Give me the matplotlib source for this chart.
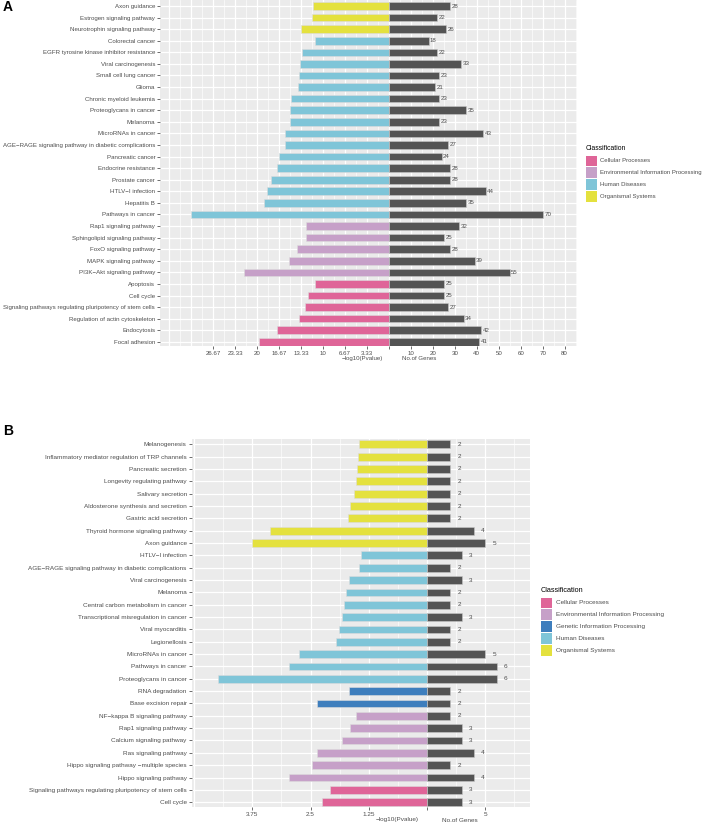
import matplotlib
matplotlib.use("Agg")
import matplotlib.pyplot as plt
from matplotlib.patches import Rectangle
import numpy as np

plt.rcParams['font.family'] = ['Liberation Sans', 'DejaVu Sans']

# ---------------- Data: panel A (top to bottom) ----------------
A_terms = ["Axon guidance", "Estrogen signaling pathway", "Neurotrophin signaling pathway",
           "Colorectal cancer", "EGFR tyrosine kinase inhibitor resistance", "Viral carcinogenesis",
           "Small cell lung cancer", "Glioma", "Chronic myeloid leukemia", "Proteoglycans in cancer",
           "Melanoma", "MicroRNAs in cancer", "AGE\u2212RAGE signaling pathway in diabetic complications",
           "Pancreatic cancer", "Endocrine resistance", "Prostate cancer", "HTLV\u2212I infection",
           "Hepatitis B", "Pathways in cancer", "Rap1 signaling pathway", "Sphingolipid signaling pathway",
           "FoxO signaling pathway", "MAPK signaling pathway", "PI3K\u2212Akt signaling pathway",
           "Apoptosis", "Cell cycle", "Signaling pathways regulating pluripotency of stem cells",
           "Regulation of actin cytoskeleton", "Endocytosis", "Focal adhesion"]
A_class = ["Organismal Systems"] * 3 + ["Human Diseases"] * 16 + \
          ["Environmental Information Processing"] * 5 + ["Cellular Processes"] * 6
A_logp = [11.5, 11.7, 13.35, 11.2, 13.2, 13.5, 13.6, 13.85, 14.85, 15.0, 15.05, 15.8, 15.8,
          16.7, 17.05, 17.9, 18.5, 18.95, 30.0, 12.55, 12.55, 14.0, 15.15, 22.0,
          11.3, 12.35, 12.75, 13.7, 17.05, 19.7]
A_genes = [28, 22, 26, 18, 22, 33, 23, 21, 23, 35, 23, 43, 27, 24, 28, 28, 44, 35, 70,
           32, 25, 28, 39, 55, 25, 25, 27, 34, 42, 41]

# ---------------- Data: panel B (top to bottom) ----------------
B_terms = ["Melanogenesis", "Inflammatory mediator regulation of TRP channels", "Pancreatic secretion",
           "Longevity regulating pathway", "Salivary secretion", "Aldosterone synthesis and secretion",
           "Gastric acid secretion", "Thyroid hormone signaling pathway", "Axon guidance",
           "HTLV\u2212I infection", "AGE\u2212RAGE signaling pathway in diabetic complications",
           "Viral carcinogenesis", "Melanoma", "Central carbon metabolism in cancer",
           "Transcriptional misregulation in cancer", "Viral myocarditis", "Legionellosis",
           "MicroRNAs in cancer", "Pathways in cancer", "Proteoglycans in cancer",
           "RNA degradation", "Base excision repair", "NF\u2212kappa B signaling pathway",
           "Rap1 signaling pathway", "Calcium signaling pathway", "Ras signaling pathway",
           "Hippo signaling pathway \u2212multiple species", "Hippo signaling pathway",
           "Signaling pathways regulating pluripotency of stem cells", "Cell cycle"]
B_class = ["Organismal Systems"] * 9 + ["Human Diseases"] * 11 + \
          ["Genetic Information Processing"] * 2 + ["Environmental Information Processing"] * 6 + \
          ["Cellular Processes"] * 2
B_logp = [1.47, 1.49, 1.50, 1.53, 1.57, 1.65, 1.70, 3.38, 3.76,
          1.42, 1.47, 1.67, 1.74, 1.79, 1.82, 1.89, 1.95, 2.74, 2.96, 4.49,
          1.68, 2.36, 1.53, 1.65, 1.82, 2.36, 2.47, 2.96, 2.09, 2.25]
B_genes = [2, 2, 2, 2, 2, 2, 2, 4, 5, 3, 2, 3, 2, 2, 3, 2, 2, 5, 6, 6,
           2, 2, 2, 3, 3, 4, 2, 4, 3, 3]

CLASS_COLORS = {
    "Cellular Processes": "#DF6598",
    "Environmental Information Processing": "#C6A0C8",
    "Genetic Information Processing": "#3E7EBD",
    "Human Diseases": "#7FC5D8",
    "Organismal Systems": "#E4E13E",
}
GENE_COLOR = "#545454"
PANEL_BG = "#EBEBEB"
TXT = "#4D4D4D"

W, H = 708, 825
fig = plt.figure(figsize=(W / 100, H / 100), dpi=100)


def px_axes(left, top, right, bottom):
    return fig.add_axes([left / W, 1 - bottom / H, (right - left) / W, (bottom - top) / H])


def fmt(v):
    return f"{v:.2f}".rstrip("0").rstrip(".")


def draw_panel(ax, terms, classes, logp, genes, scale, xlim, ylim, major, minor,
               bar_h, fs, lbl_off):
    n = len(terms)
    y = np.arange(n)
    ax.set_facecolor(PANEL_BG)
    for s in ax.spines.values():
        s.set_visible(False)
    for xv in minor:
        ax.axvline(xv, color="white", lw=0.45, zorder=0)
    for xv in major:
        ax.axvline(xv, color="white", lw=0.9, zorder=0)
    for yv in y:
        ax.axhline(yv, color="white", lw=0.9, zorder=0)
    cols = [CLASS_COLORS[c] for c in classes]
    ax.barh(y, -np.array(logp) * scale, height=bar_h, color=cols,
            edgecolor="#dcdcdc", linewidth=0.4, zorder=2)
    ax.barh(y, genes, height=bar_h, color=GENE_COLOR,
            edgecolor="#c8c8c8", linewidth=0.4, zorder=2)
    for yi, g in zip(y, genes):
        ax.annotate(str(g), (g, yi), xytext=(lbl_off, 0), textcoords="offset pixels",
                    ha="left", va="center", fontsize=fs, color=TXT)
    ax.set_xlim(*xlim)
    ax.set_ylim(*ylim)
    ax.set_yticks(y)
    ax.set_yticklabels(terms, fontsize=fs, color=TXT)
    return ax


# ---------------- Panel A ----------------
axA = px_axes(160, 0, 576.7, 346)
scaleA = 3
draw_panel(axA, A_terms, A_class, A_logp, A_genes, scaleA,
           xlim=(-104.3, 85.5), ylim=(29.36, -0.52),
           major=list(range(-100, 81, 10)), minor=list(range(-105, 86, 10)),
           bar_h=0.66, fs=4.4, lbl_off=1.5)
A_ticks = list(range(-80, 0, 10)) + [0] + list(range(10, 81, 10))
axA.set_xticks(A_ticks)
axA.set_xticklabels([fmt(abs(t) / scaleA) if t < 0 else ("" if t == 0 else str(t)) for t in A_ticks],
                    fontsize=4.4, color=TXT)
axA.tick_params(axis="both", length=2, width=0.5, color="#333333", pad=1.5)

fig.text(362 / W, 1 - 358.5 / H, "\u2212log10(Pvalue)", fontsize=4.4, color=TXT, ha="center", va="center")
fig.text(419 / W, 1 - 358.5 / H, "No.of Genes", fontsize=4.4, color=TXT, ha="center", va="center")

# ---------------- Panel B ----------------
axB = px_axes(191.7, 439, 530, 807)
scaleB = 4
draw_panel(axB, B_terms, B_class, B_logp, B_genes, scaleB,
           xlim=(-20.2, 8.84), ylim=(29.39, -0.43),
           major=[-20, -15, -10, -5, 0, 5], minor=[-17.5, -12.5, -7.5, -2.5, 2.5, 7.5],
           bar_h=0.63, fs=4.6, lbl_off=7)
B_ticks = [-15, -10, -5, 0, 5]
axB.set_xticks(B_ticks)
axB.set_xticklabels([fmt(abs(t) / scaleB) if t < 0 else ("" if t == 0 else str(t)) for t in B_ticks],
                    fontsize=4.6, color=TXT)
axB.tick_params(axis="both", length=2, width=0.5, color="#333333", pad=1.5)

fig.text(397 / W, 1 - 820 / H, "\u2212log10(Pvalue)", fontsize=4.6, color=TXT, ha="center", va="center")
fig.text(460 / W, 1 - 820 / H, "No.of Genes", fontsize=4.6, color=TXT, ha="center", va="center")

# ---------------- Panel letters ----------------
fig.text(3 / W, 1 - 7 / H, "A", fontsize=10, fontweight="bold", ha="left", va="center")
fig.text(3 / W, 1 - 431 / H, "B", fontsize=10, fontweight="bold", ha="left", va="center")


# ---------------- Legends ----------------
def legend(x_key, y_title, classes, key=10.7, step=11.8, fs=4.6, gap=4):
    fig.text(x_key / W, 1 - y_title / H, "Classification", fontsize=fs + 0.6, color="black",
             ha="left", va="center")
    for i, c in enumerate(classes):
        cy = y_title + 13 + i * step
        fig.patches.append(Rectangle((x_key / W, 1 - (cy + key / 2) / H), key / W, key / H,
                                     transform=fig.transFigure, facecolor=CLASS_COLORS[c],
                                     edgecolor="none"))
        fig.text((x_key + key + gap) / W, 1 - cy / H, c, fontsize=fs, color=TXT, ha="left", va="center")


legend(586, 148, ["Cellular Processes", "Environmental Information Processing",
                  "Human Diseases", "Organismal Systems"], fs=4.3, gap=3.5)
legend(541, 590, ["Cellular Processes", "Environmental Information Processing",
                  "Genetic Information Processing", "Human Diseases", "Organismal Systems"])

fig.savefig("out.png", dpi=100)
